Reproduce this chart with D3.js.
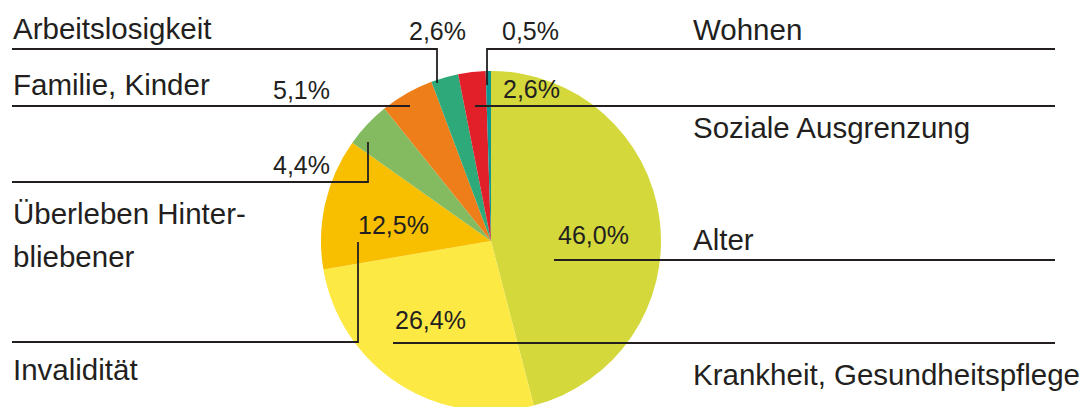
<!DOCTYPE html>
<html>
<head>
<meta charset="utf-8">
<script src="https://cdn.jsdelivr.net/npm/d3@7"></script>
<style>
  body { margin: 0; background: #fff; }
  text { font-family: "Liberation Sans", Arial, sans-serif; fill: #231f20; }
</style>
</head>
<body>
<div id="chart"></div>
<script>
// Data
const categories = ["Alter", "Krankheit, Gesundheitspflege", "Invalidität", "Überleben Hinterbliebener",
  "Familie, Kinder", "Arbeitslosigkeit", "Soziale Ausgrenzung", "Wohnen"];
const shares = [46.0, 26.4, 12.5, 4.4, 5.1, 2.6, 2.6, 0.5];
const colors = ["#d4d83b", "#fde944", "#f7bf00", "#85bb60", "#ee7e1a", "#2da97a", "#e2202a", "#10978f"];

const width = 1089, height = 407;
const cx = 491, cy = 241, radius = 170;

const fmt = v => d3.format(".1f")(v).replace(".", ",") + "%";

// annotation layout: label lines, percent position, leader polyline
const layout = {
  "Alter":       { lines: ["Alter"], lx: 693, ly: 250, px: 558, py: 244, path: [[554, 260], [1055, 260]] },
  "Krankheit, Gesundheitspflege": { lines: ["Krankheit, Gesundheitspflege"], lx: 693, ly: 385, px: 395, py: 329, path: [[393, 343], [1055, 343]] },
  "Invalidität": { lines: ["Invalidität"], lx: 13, ly: 380, px: 358, py: 234, path: [[12, 342], [358, 342], [358, 242]] },
  "Überleben Hinterbliebener": { lines: ["Überleben Hinter-", "bliebener"], lx: 13, ly: 224, px: 273, py: 174, path: [[12, 182], [368, 182], [368, 142]] },
  "Familie, Kinder": { lines: ["Familie, Kinder"], lx: 13, ly: 95, px: 273, py: 99, path: [[12, 106], [410, 106]] },
  "Arbeitslosigkeit": { lines: ["Arbeitslosigkeit"], lx: 13, ly: 39, px: 409, py: 40, path: [[12, 49], [437, 49], [437, 83]] },
  "Soziale Ausgrenzung": { lines: ["Soziale Ausgrenzung"], lx: 693, ly: 138, px: 503, py: 98, path: [[475, 106], [1055, 106]] },
  "Wohnen":      { lines: ["Wohnen"], lx: 693, ly: 40, px: 502, py: 40, path: [[1055, 49], [487, 49], [487, 85]] }
};

const data = categories.map((c, i) => ({ name: c, value: shares[i], color: colors[i] }));

const svg = d3.select("#chart")
  .append("svg")
  .attr("width", width)
  .attr("height", height);

const pie = d3.pie().sort(null).value(d => d.value);
const arc = d3.arc().innerRadius(0).outerRadius(radius);

// Draw the slices
svg.append("g")
  .attr("transform", `translate(${cx},${cy})`)
  .selectAll("path")
  .data(pie(data))
  .join("path")
    .attr("d", arc)
    .attr("fill", d => d.data.color);

// Leader lines
const line = d3.line();
svg.append("g")
  .selectAll("path")
  .data(data)
  .join("path")
    .attr("d", d => line(layout[d.name].path))
    .attr("fill", "none")
    .attr("stroke", "#231f20")
    .attr("stroke-width", 1.8);

// Category labels
const labels = svg.append("g")
  .selectAll("text")
  .data(data)
  .join("text")
    .attr("x", d => layout[d.name].lx)
    .attr("y", d => layout[d.name].ly)
    .style("font-size", "29.5px");

labels.selectAll("tspan")
  .data(d => layout[d.name].lines.map((t, i) => ({ t, i, x: layout[d.name].lx })))
  .join("tspan")
    .attr("x", d => d.x)
    .attr("dy", d => d.i ? 43 : 0)
    .text(d => d.t);

// Percent labels
svg.append("g")
  .selectAll("text")
  .data(data)
  .join("text")
    .attr("x", d => layout[d.name].px)
    .attr("y", d => layout[d.name].py)
    .style("font-size", "25px")
    .text(d => fmt(d.value));
</script>
</body>
</html>
